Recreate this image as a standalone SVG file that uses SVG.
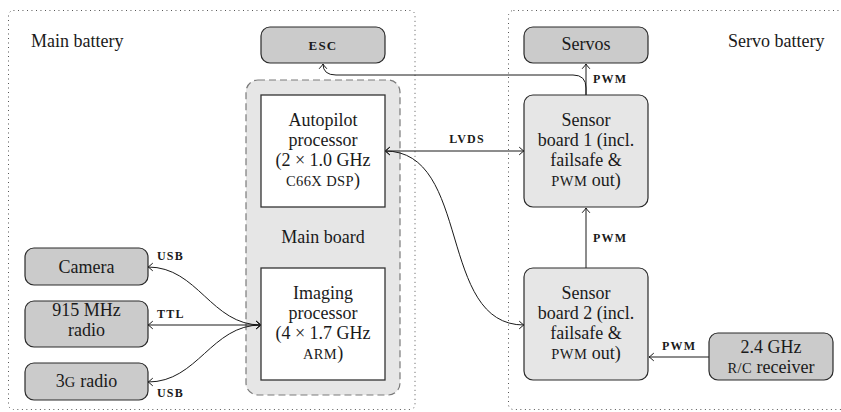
<svg xmlns="http://www.w3.org/2000/svg" width="841" height="412" viewBox="0 0 841 412">
  <style>
    text { font-family: "Liberation Serif", "Times New Roman", serif; fill: #1a1a1a; }
    .t { font-size: 18px; text-anchor: middle; }
    .sc { font-size: 14.5px; letter-spacing: 0.4px; }
    .lbl { font-size: 12px; font-weight: bold; letter-spacing: 1.2px; }
    .zone { fill: none; stroke: #444; stroke-width: 1; stroke-dasharray: 0.9 3.6; }
    .dev { fill: #cbcbcb; stroke: #2a2a2a; stroke-width: 1.2; }
    .sensor { fill: #e6e6e6; stroke: #2a2a2a; stroke-width: 1.2; }
    .cpu { fill: #ffffff; stroke: #333; stroke-width: 1.3; }
    .board { fill: #e6e6e6; stroke: #7a7a7a; stroke-width: 1.2; stroke-dasharray: 7 4; }
    .wire { fill: none; stroke: #1a1a1a; stroke-width: 1; }
  </style>
  <defs>
    <marker id="to" viewBox="-6 -5 8 10" refX="0" refY="0" markerWidth="8" markerHeight="10" markerUnits="userSpaceOnUse" orient="auto-start-reverse">
      <path d="M-4.5,-3.6 Q-1.2,-0.6 0,0 Q-1.2,0.6 -4.5,3.6" fill="none" stroke="#1a1a1a" stroke-width="1" stroke-linecap="round"/>
    </marker>
  </defs>

  <!-- power domains -->
  <g id="main-battery">
    <rect class="zone" x="8.5" y="10.5" width="406.5" height="399" rx="5"/>
    <text x="31" y="47" style="font-size:18px">Main battery</text>
  </g>
  <g id="servo-battery">
    <rect class="zone" x="508.5" y="10.5" width="345" height="399" rx="5"/>
    <text x="728" y="47" style="font-size:18px">Servo battery</text>
  </g>

  <!-- main board container -->
  <g id="main-board">
    <rect class="board" x="246" y="80" width="154" height="315" rx="12"/>
    <text class="t" x="323" y="243">Main board</text>
  </g>

  <!-- connectors -->
  <g id="connectors">
    <path class="wire" d="M586,95 L586,64" marker-end="url(#to)"/>
    <path class="wire" d="M586,95 L586,88 Q586,75 573,75 L336,75 Q323,75 323,64" marker-end="url(#to)"/>
    <path class="wire" d="M385,151 L524,151" marker-start="url(#to)" marker-end="url(#to)"/>
    <path class="wire" d="M385,151 C472,151 437,325 524,325" marker-start="url(#to)" marker-end="url(#to)"/>
    <path class="wire" d="M148,267 C198,267 211,325 261,325" marker-start="url(#to)" marker-end="url(#to)"/>
    <path class="wire" d="M148,325 L261,325" marker-start="url(#to)" marker-end="url(#to)"/>
    <path class="wire" d="M148,382 C198,382 211,325 261,325" marker-start="url(#to)" marker-end="url(#to)"/>
    <path class="wire" d="M586,268 L586,208" marker-end="url(#to)"/>
    <path class="wire" d="M709,357 L649,357" marker-end="url(#to)"/>

    <text class="lbl" x="593" y="83">PWM</text>
    <text class="lbl" x="467" y="143" text-anchor="middle">LVDS</text>
    <text class="lbl" x="593" y="242">PWM</text>
    <text class="lbl" x="662" y="350">PWM</text>
    <text class="lbl" x="157" y="260">USB</text>
    <text class="lbl" x="157" y="318">TTL</text>
    <text class="lbl" x="157" y="397">USB</text>
  </g>

  <!-- nodes -->
  <g id="esc">
    <rect class="dev" x="261" y="27" width="124" height="36" rx="9"/>
    <text class="lbl" x="323" y="50" text-anchor="middle" style="font-size:13px">ESC</text>
  </g>
  <g id="servos">
    <rect class="dev" x="524" y="27" width="124" height="36" rx="9"/>
    <text class="t" x="586" y="50">Servos</text>
  </g>
  <g id="autopilot">
    <rect class="cpu" x="261" y="95" width="124" height="112"/>
    <text class="t" x="323" y="126">Autopilot</text>
    <text class="t" x="323" y="146">processor</text>
    <text class="t" x="323" y="166">(2 × 1.0 GHz</text>
    <text class="t" x="323" y="186"><tspan class="sc">C66X DSP</tspan>)</text>
  </g>
  <g id="imaging">
    <rect class="cpu" x="261" y="268" width="124" height="112"/>
    <text class="t" x="323" y="299">Imaging</text>
    <text class="t" x="323" y="319">processor</text>
    <text class="t" x="323" y="339">(4 × 1.7 GHz</text>
    <text class="t" x="323" y="359"><tspan class="sc">ARM</tspan>)</text>
  </g>
  <g id="sensor-board-1">
    <rect class="sensor" x="524" y="95" width="124" height="112" rx="9"/>
    <text class="t" x="586" y="126">Sensor</text>
    <text class="t" x="586" y="146">board 1 (incl.</text>
    <text class="t" x="586" y="166">failsafe &amp;</text>
    <text class="t" x="586" y="186"><tspan class="sc">PWM</tspan> out)</text>
  </g>
  <g id="sensor-board-2">
    <rect class="sensor" x="524" y="268" width="124" height="112" rx="9"/>
    <text class="t" x="586" y="299">Sensor</text>
    <text class="t" x="586" y="319">board 2 (incl.</text>
    <text class="t" x="586" y="339">failsafe &amp;</text>
    <text class="t" x="586" y="359"><tspan class="sc">PWM</tspan> out)</text>
  </g>
  <g id="camera">
    <rect class="dev" x="25" y="248" width="123" height="37" rx="9"/>
    <text class="t" x="86.5" y="273">Camera</text>
  </g>
  <g id="radio-915">
    <rect class="dev" x="25" y="301" width="123" height="46" rx="9"/>
    <text class="t" x="86.5" y="316">915 MHz</text>
    <text class="t" x="86.5" y="336">radio</text>
  </g>
  <g id="radio-3g">
    <rect class="dev" x="25" y="363" width="123" height="37" rx="9"/>
    <text class="t" x="86.5" y="387">3<tspan class="sc">G</tspan> radio</text>
  </g>
  <g id="rc-receiver">
    <rect class="dev" x="709" y="333" width="124" height="47" rx="9"/>
    <text class="t" x="771" y="353">2.4 GHz</text>
    <text class="t" x="771" y="373"><tspan class="sc">R/C</tspan> receiver</text>
  </g>
</svg>
